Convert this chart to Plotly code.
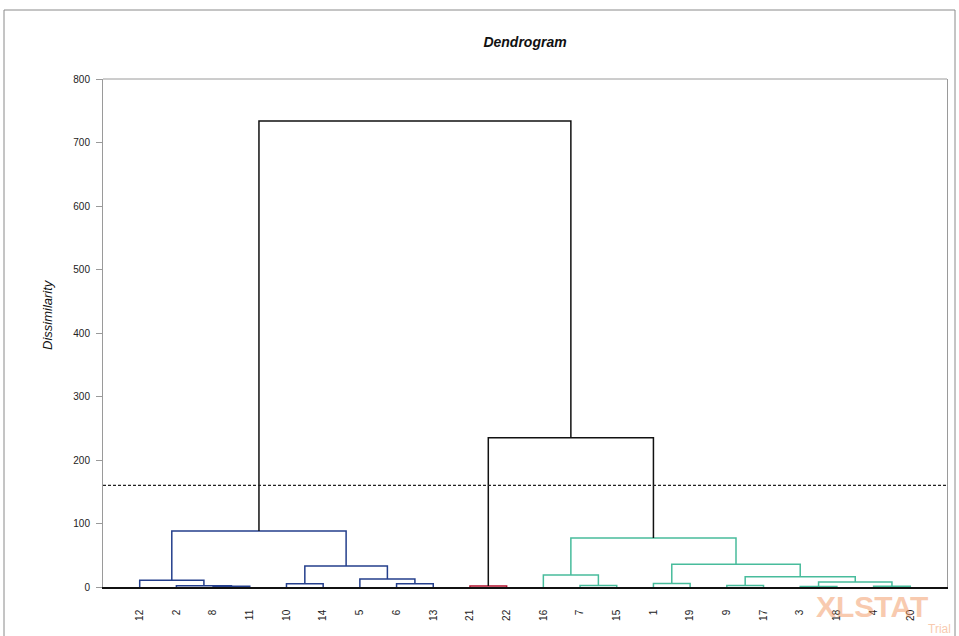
import plotly.graph_objects as go

# ---- data ----
leaves = ["12", "2", "8", "11", "10", "14", "5", "6", "13", "21", "22",
          "16", "7", "15", "1", "19", "9", "17", "3", "18", "4", "20"]
merge_names = ["A", "B", "C", "D", "E", "F", "G", "H", "I", "J", "K",
               "L", "M", "N", "O", "P", "Q", "R", "S", "T", "U"]
merge_left = ["8", "2", "12", "10", "6", "5", "D", "C", "21", "7", "16",
              "1", "9", "3", "4", "N", "M", "L", "K", "I", "H"]
merge_right = ["11", "A", "B", "14", "13", "E", "F", "G", "22", "15", "J",
               "19", "17", "18", "20", "O", "P", "Q", "R", "S", "T"]
merge_height = [1.0, 2.0, 10.5, 5.0, 5.0, 12.5, 33.0, 88.0, 1.5, 2.5, 19.0,
                5.5, 2.5, 0.8, 1.0, 8.0, 16.0, 36.0, 77.0, 235.0, 734.0]
cut_level = 160
y_ticks = [0, 100, 200, 300, 400, 500, 600, 700, 800]

# ---- styles ----
cluster_colors = {"H": "#243F8C", "I": "#B3112E", "S": "#48BC9C"}
above_color = "#111111"

# positions
pos = {lab: i + 1 for i, lab in enumerate(leaves)}
hgt = {lab: 0.0 for lab in leaves}
children = {}
for n, l, r, h in zip(merge_names, merge_left, merge_right, merge_height):
    pos[n] = (pos[l] + pos[r]) / 2
    hgt[n] = h
    children[n] = (l, r)

# colour for each merge
mcolor = {}
def paint(node, col):
    if node in children:
        mcolor[node] = col
        for c in children[node]:
            paint(c, col)
for root, col in cluster_colors.items():
    paint(root, col)
for n, h in zip(merge_names, merge_height):
    if h > cut_level:
        mcolor[n] = above_color

fig = go.Figure()
for n, l, r, h in zip(merge_names, merge_left, merge_right, merge_height):
    fig.add_trace(go.Scatter(
        x=[pos[l], pos[l], pos[r], pos[r]],
        y=[hgt[l], h, h, hgt[r]],
        mode="lines", line=dict(color=mcolor[n], width=1.5),
        hoverinfo="skip", showlegend=False))

fig.add_trace(go.Scatter(
    x=[0, len(leaves) + 1], y=[cut_level, cut_level], mode="lines",
    line=dict(color="#222222", width=1.3, dash="3px,2px"),
    hoverinfo="skip", showlegend=False))

fig.update_layout(
    width=959, height=636,
    margin=dict(l=103, r=12, t=79, b=49),
    paper_bgcolor="white", plot_bgcolor="white",
    font=dict(family="Liberation Sans, Arial, sans-serif", color="#333333", size=10),
    title=dict(text="<b><i>Dendrogram</i></b>", x=(103 + 947) / 2 / 959, xanchor="center",
               y=1 - 42 / 636, yanchor="middle",
               font=dict(size=14, color="#111111")),
    xaxis=dict(range=[0, len(leaves) + 1], tickvals=list(range(1, len(leaves) + 1)),
               ticktext=leaves, tickangle=-90, showgrid=False, zeroline=False,
               showline=True, linecolor="#111111", linewidth=1.5, ticks="",
               ticklabelstandoff=17, tickfont=dict(size=10, color="#222222")),
    yaxis=dict(range=[0, 800], tickvals=y_ticks, showgrid=False, zeroline=False,
               showline=True, linecolor="#9A9A9A", linewidth=1, ticks="outside",
               ticklen=6, tickcolor="#9A9A9A", mirror=True,
               ticklabelstandoff=4, tickfont=dict(size=10, color="#222222")),
    shapes=[
        dict(type="line", xref="paper", yref="paper", x0=0, x1=1, y0=1, y1=1,
             line=dict(color="#9A9A9A", width=1)),
        dict(type="rect", xref="paper", yref="paper",
             x0=(4 - 103) / 844, x1=(955 - 103) / 844,
             y0=(587 - 645) / 508, y1=(587 - 10) / 508,
             line=dict(color="#8A8A8A", width=1)),
    ],
    annotations=[
        dict(text="<i>Dissimilarity</i>", xref="paper", yref="paper",
             x=(47 - 103) / 844, y=(587 - 314) / 508, textangle=-90,
             showarrow=False, xanchor="center", yanchor="middle",
             font=dict(size=13, color="#111111")),
        dict(text="<b>XLSTAT</b>", xref="paper", yref="paper",
             x=(814 - 103) / 844, y=(587 - 606) / 508, xanchor="left", yanchor="middle",
             showarrow=False, opacity=0.45,
             font=dict(size=30, color="#F08C50", family="Liberation Sans, Arial")),
        dict(text="Trial", xref="paper", yref="paper",
             x=(953 - 103) / 844, y=(587 - 629) / 508, xanchor="right", yanchor="middle",
             showarrow=False, opacity=0.45,
             font=dict(size=12, color="#F08C50", family="Liberation Sans, Arial")),
    ],
)

fig.write_html("out.html", config={"displayModeBar": False},
               post_script="document.body.style.margin='0px';")
